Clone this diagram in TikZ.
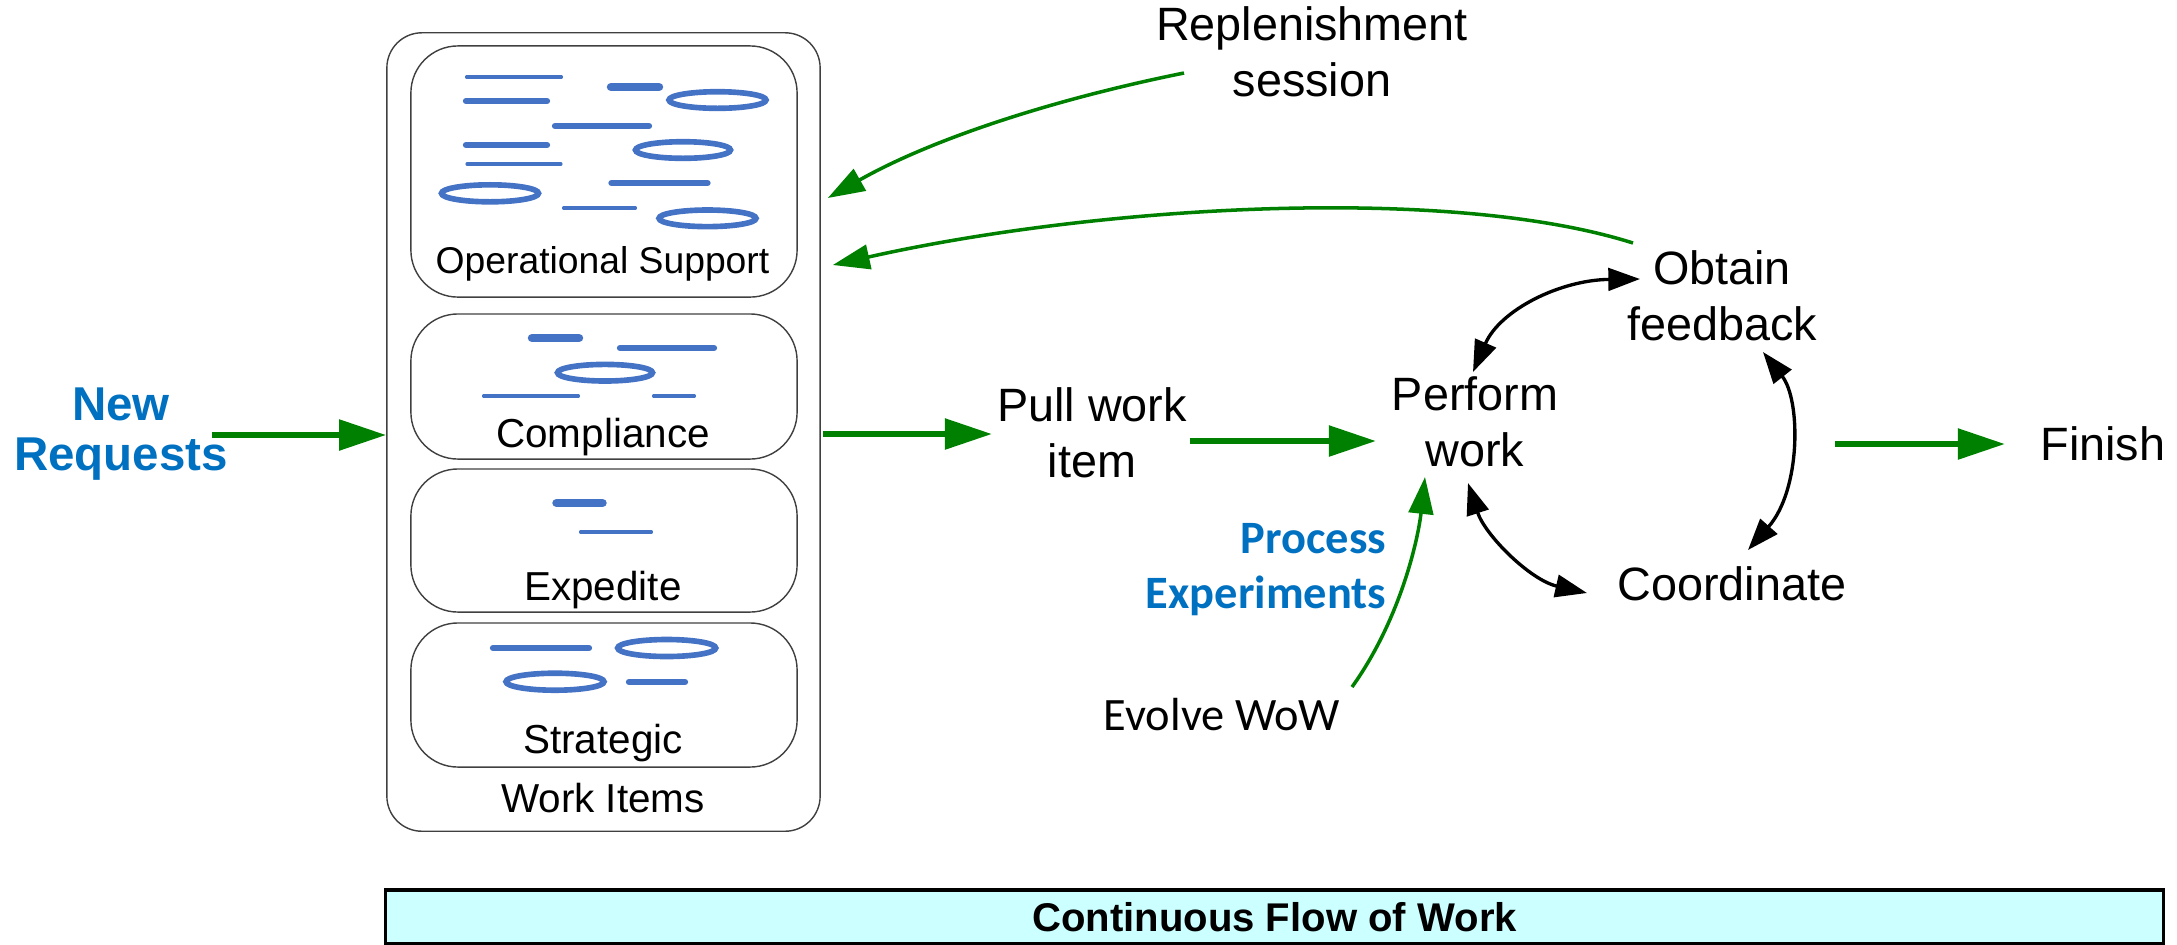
\documentclass[tikz,border=0pt]{standalone}
\usepackage{fontspec}
\setmainfont{Liberation Sans}
\newfontfamily\carlito{Carlito}
\usetikzlibrary{arrows.meta,calc}
\definecolor{barblue}{HTML}{4472C4}
\definecolor{flowgreen}{HTML}{008000}
\definecolor{reqblue}{HTML}{0070C0}
\definecolor{flowcyan}{HTML}{CCFFFF}
\begin{document}
\begin{tikzpicture}[x=0.01cm,y=-0.01cm,
  txt/.style={inner sep=0pt, align=center, font=\fontsize{13.3}{15.9}\selectfont},
  boxlbl/.style={inner sep=0pt, anchor=base, font=\fontsize{11.5}{13}\selectfont},
  lane/.style={draw=black!75, line width=0.4pt, rounded corners=0.47cm, minimum width=3.86cm, inner sep=0pt},
  thinbar/.style={barblue, line cap=round, line width=0.9pt},
  midbar/.style={barblue, line cap=round, line width=1.8pt},
  thickbar/.style={barblue, line cap=round, line width=2.4pt},
  ring/.style={draw=barblue, line width=1.6pt},
  garrow/.style={flowgreen, line width=1.7pt, -{Triangle[length=13.4pt,width=8.5pt]}},
  gthin/.style={flowgreen, line width=1pt, -{Triangle[length=10.5pt,width=7pt]}},
  cyc/.style={black, line width=0.95pt, {Triangle[length=9pt,width=6.4pt]}-{Triangle[length=9pt,width=6.4pt]}}
]
\useasboundingbox (0,0) rectangle (2177,944);

% work items container and lanes
\node[draw=black!75, line width=0.4pt, rounded corners=0.35cm, minimum width=4.33cm, minimum height=7.98cm, inner sep=0pt] (items) at (603.5,432) {};
\node[lane, minimum height=2.51cm] (opsup) at (604,171.5) {};
\node[lane, minimum height=1.45cm] (compl) at (604,386.5) {};
\node[lane, minimum height=1.43cm] (exped) at (604,540.5) {};
\node[lane, minimum height=1.44cm] (strat) at (604,695) {};

\node[boxlbl, font=\fontsize{10.6}{12}\selectfont] (opsuplbl) at (602.5,273) {Operational Support};
\node[boxlbl] (compllbl) at (603,447) {Compliance};
\node[boxlbl] (expedlbl) at (603,600) {Expedite};
\node[boxlbl] (stratlbl) at (603,753) {Strategic};
\node[boxlbl] (itemslbl) at (603,812) {Work Items};

% operational support work items
\draw[thinbar] (466.5,77) -- (561.5,77);
\draw[thickbar] (611,87) -- (659,87);
\draw[ring] (717.5,100) ellipse [x radius=0.485cm, y radius=0.083cm];
\draw[midbar] (466,101) -- (547,101);
\draw[midbar] (555,126) -- (649,126);
\draw[midbar] (466,145) -- (547,145);
\draw[ring] (683,150) ellipse [x radius=0.475cm, y radius=0.083cm];
\draw[thinbar] (467,164) -- (561,164);
\draw[ring] (490,193.3) ellipse [x radius=0.485cm, y radius=0.085cm];
\draw[midbar] (611.5,183) -- (707.5,183);
\draw[thinbar] (563.5,208) -- (635.5,208);
\draw[ring] (707.5,218.3) ellipse [x radius=0.485cm, y radius=0.083cm];

% compliance
\draw[thickbar] (532,338) -- (579,338);
\draw[midbar] (620,348) -- (714,348);
\draw[ring] (605,372.7) ellipse [x radius=0.475cm, y radius=0.083cm];
\draw[thinbar] (483.5,396) -- (578.5,396);
\draw[thinbar] (653.5,396) -- (694.5,396);

% expedite
\draw[thickbar] (556.5,503) -- (602.5,503);
\draw[thinbar] (580.5,532) -- (651.5,532);

% strategic
\draw[midbar] (493,648) -- (589,648);
\draw[ring] (666.7,648) ellipse [x radius=0.49cm, y radius=0.085cm];
\draw[ring] (555,681.7) ellipse [x radius=0.49cm, y radius=0.085cm];
\draw[midbar] (629,682) -- (685,682);

% text nodes
\node[inner sep=0pt, align=center, text=reqblue, font=\fontsize{13.5}{14.4}\selectfont\bfseries] (newreq) at (121,434) {New\\Requests};
\node[txt] (pull) at (1092,433) {Pull work\\item};
\node[txt] (perform) at (1475,421.5) {Perform\\work};
\node[txt] (obtain) at (1722,295.5) {Obtain\\feedback};
\node[txt, anchor=base] (coord) at (1732,600) {Coordinate};
\node[txt, anchor=base] (finish) at (2103,460) {Finish};
\node[txt] (replen) at (1312,52) {Replenishment\\session};
\node[inner sep=0pt, align=right, anchor=east, text=reqblue, font=\carlito\bfseries\fontsize{13.2}{15.6}\selectfont] (procexp) at (1387,570) {Process\\Experiments};
\node[inner sep=0pt, anchor=base, font=\carlito\fontsize{13.2}{15.6}\selectfont] (evolve) at (1222,730) {Evolve WoW};
\node[draw=black, line width=1pt, fill=flowcyan, minimum width=17.77cm, minimum height=0.54cm, inner sep=0pt, font=\bfseries\fontsize{11.4}{13}\selectfont] (flow) at (1274.5,917) {Continuous Flow of Work};

\coordinate (cycleout) at (1835,444);

% green flow arrows
\draw[garrow] ($(newreq)+(91,1)$) -- ($(items.west)+(0,3)$);
\draw[garrow] ($(items.east)+(2,2)$) -- ($(pull)+(-100,1)$);
\draw[garrow] ($(pull)+(98,8)$) -- ($(perform)+(-99,19.5)$);
\draw[garrow] (cycleout) -- ($(finish.base)+(-98,-16)$);

% green feedback arrows
\draw[gthin] ($(replen)+(-128,21)$) .. controls (1050,100) and (930,140) .. ($(opsup.east)+(30,26.5)$);
\draw[gthin] ($(obtain)+(-89,-52.5)$) .. controls (1450,185) and (1100,205) .. ($(opsup.east)+(35,93.5)$);
\draw[gthin] ($(evolve.base)+(130,-43)$) .. controls (1400,620) and (1418,540) .. ($(perform)+(-50,55.5)$);

% black cycle arrows
\draw[cyc] ($(perform)+(-2,-49.5)$) .. controls (1500,310) and (1560,280) .. ($(obtain)+(-82,-16.5)$);
\draw[cyc] ($(obtain)+(41,56.5)$) .. controls (1801,400) and (1801,490) .. ($(coord.base)+(16,-50)$);
\draw[cyc] ($(perform)+(-7,61.5)$) .. controls (1485,535) and (1530,580) .. ($(coord.base)+(-145,-7)$);
\end{tikzpicture}
\end{document}
